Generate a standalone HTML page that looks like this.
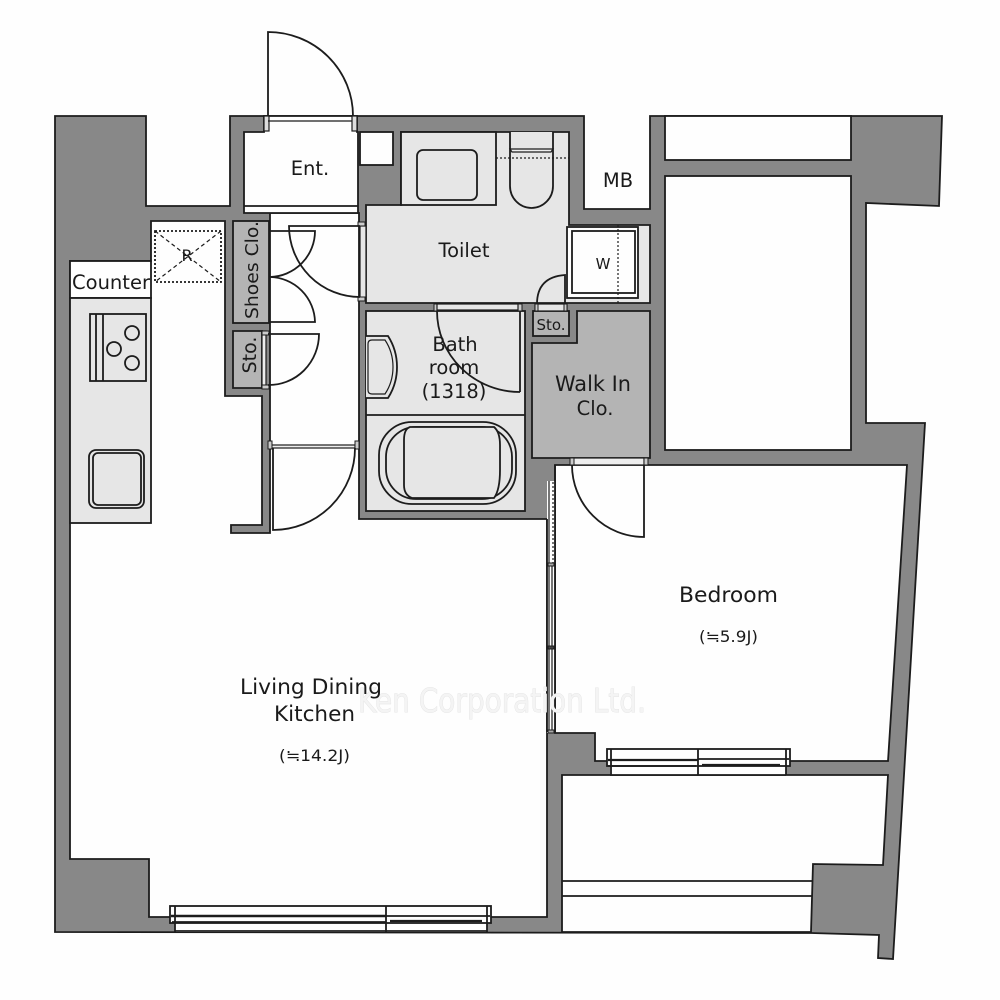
<!DOCTYPE html>
<html>
<head>
<meta charset="utf-8">
<style>
html,body{margin:0;padding:0;background:#fff;}
svg{display:block;}
text{font-family:"DejaVu Sans","Liberation Sans","Noto Sans CJK JP",sans-serif;fill:#1a1a1a;text-anchor:middle;}
</style>
</head>
<body>
<svg width="1000" height="1000" viewBox="0 0 1000 1000" xmlns="http://www.w3.org/2000/svg">
<rect width="1000" height="1000" fill="#fefefe"/>
<g stroke="#1c1c1c" stroke-width="1.8" fill="none" stroke-linejoin="miter">
<!-- outer walls -->
<polygon fill="#888" points="55,116 146,116 146,206 230,206 230,116 584,116 584,209 650,209 650,116 942,116 939,206 866,203 866,423 925,423 893,959 878,958 879,935 811,933 55,932"/>
<!-- closets right -->
<rect x="665" y="116" width="186" height="44" fill="#fefefe"/>
<rect x="665" y="176" width="186" height="274" fill="#fefefe"/>
<!-- bedroom -->
<polygon fill="#fefefe" points="555,465 907,465 888,761 595,761 595,733 555,733"/>
<!-- balcony -->
<polygon fill="#fefefe" points="562,775 888,775 883,865 813,864 811,932 562,932"/>
<line x1="562" y1="881" x2="813" y2="881"/>
<line x1="562" y1="896" x2="812" y2="896"/>
<!-- LDK + hall + R -->
<polygon fill="#fefefe" points="70,261 151,261 151,221 225,221 225,396 262,396 262,525 231,525 231,533 270,533 270,213 359,213 359,519 547,519 547,917 149,917 149,859 70,859"/>
<!-- entrance -->
<polygon fill="#fefefe" points="244,132 264,132 264,116 357,116 357,132 358,132 358,213 244,213"/>
<line x1="244" y1="206" x2="358" y2="206"/>
<rect x="264" y="116" width="5" height="15" fill="#ddd" stroke-width="1.2"/>
<rect x="352" y="116" width="5" height="15" fill="#ddd" stroke-width="1.2"/>
<line x1="268" y1="121" x2="352" y2="121" stroke-width="1.2"/>
<!-- entry door -->
<path d="M268,116 V32 A85,84 0 0 1 353,116"/>
<!-- white box -->
<rect x="360" y="132" width="33" height="33" fill="#fefefe"/>
<!-- toilet -->
<polygon fill="#e6e6e6" points="401,132 569,132 569,225 650,225 650,303 366,303 366,205 401,205"/>
<rect x="401" y="132" width="95" height="73" fill="#e6e6e6"/>
<rect x="417" y="150" width="60" height="50" rx="6" fill="#e6e6e6"/>
<path d="M510,132 V186 A21.5,22 0 0 0 553,186 V132" fill="#e6e6e6"/>
<path d="M510,149 H553 L551,152 H512 Z" fill="#eee" stroke-width="1.2"/>
<line x1="496" y1="158" x2="569" y2="158" stroke-dasharray="2 2" stroke-width="1.2"/>
<!-- toilet door strip -->
<rect x="360" y="226" width="6" height="72" fill="#e6e6e6" stroke-width="1.2"/>
<rect x="358" y="222" width="7" height="4" fill="#ccc" stroke-width="1"/>
<rect x="358" y="297" width="7" height="4" fill="#ccc" stroke-width="1"/>
<!-- washer -->
<rect x="567" y="227" width="71" height="71" fill="#fefefe"/>
<rect x="572" y="231" width="63" height="62" fill="#fefefe"/>
<line x1="618" y1="225" x2="618" y2="303" stroke-dasharray="2 2" stroke-width="1.2"/>
<!-- bathroom -->
<rect x="366" y="311" width="159" height="200" fill="#e6e6e6"/>
<line x1="366" y1="415" x2="525" y2="415"/>
<line x1="520" y1="308" x2="520" y2="392"/>
<path d="M437,311 A83,81 0 0 0 520,392"/>
<rect x="434" y="304" width="3" height="7" fill="#ccc" stroke-width="1"/>
<rect x="518" y="304" width="4" height="7" fill="#ccc" stroke-width="1"/>
<rect x="437" y="304" width="81" height="6" fill="#e6e6e6" stroke-width="1.2"/>
<path d="M366,336 H388 Q397,350 397,367 Q397,384 388,398 H366" fill="#e6e6e6"/>
<path d="M372,340 H385 Q393,352 393,367 Q393,382 385,394 H372 Q368,394 368,390 V344 Q368,340 372,340 Z" fill="#e6e6e6" stroke-width="1.2"/>
<rect x="379" y="422" width="137" height="82" rx="33" fill="#e6e6e6"/>
<rect x="386" y="427" width="126" height="72" rx="30" fill="#e6e6e6"/>
<path d="M410,427 Q404,429 404,440 V485 Q404,495 412,498 H494 Q500,490 500,470 V445 Q500,432 494,427 Z" fill="#e6e6e6"/>
<!-- small sto -->
<rect x="533" y="311" width="36" height="25" fill="#b4b4b4"/>
<rect x="535" y="304" width="32" height="7" fill="#e6e6e6" stroke-width="1.2"/>
<rect x="535" y="304" width="3" height="7" fill="#ccc" stroke-width="1"/>
<rect x="564" y="304" width="3" height="7" fill="#ccc" stroke-width="1"/>
<path d="M537,304 Q537,277 565,275 V304"/>
<!-- walk in closet -->
<polygon fill="#b4b4b4" points="532,343 577,343 577,311 650,311 650,458 532,458"/>
<rect x="572" y="458" width="72" height="7" fill="#eee" stroke-width="1.2"/>
<rect x="570" y="458" width="4" height="7" fill="#ccc" stroke-width="1"/>
<rect x="644" y="458" width="4" height="7" fill="#ccc" stroke-width="1"/>
<path d="M644,465 V537 A72,72 0 0 1 572,465"/>
<!-- shoes closet, sto -->
<rect x="233" y="221" width="36" height="102" fill="#b4b4b4"/>
<polygon fill="#b4b4b4" points="233,331 262,331 262,388 233,388"/>
<rect x="262" y="331" width="4" height="57" fill="#eee" stroke-width="1.2"/>
<rect x="262" y="331" width="7" height="4" fill="#ccc" stroke-width="1"/>
<rect x="262" y="385" width="7" height="4" fill="#ccc" stroke-width="1"/>
<!-- hall doors -->
<path d="M269,231 H315 A46,46 0 0 1 270,277 A46,46 0 0 1 315,322 H269"/>
<path d="M268,334 H319 A50,51 0 0 1 268,385"/>
<path d="M360,226 H289 A71,71 0 0 0 360,297"/>
<!-- door at bottom hall -->
<rect x="271" y="445" width="84" height="3" fill="#eee" stroke-width="1.2"/>
<rect x="268" y="441" width="4" height="8" fill="#ccc" stroke-width="1"/>
<rect x="355" y="441" width="4" height="8" fill="#ccc" stroke-width="1"/>
<path d="M273,448 V530 A82,82 0 0 0 355,448"/>
<!-- counter / kitchen -->
<rect x="70" y="261" width="81" height="37" fill="#fefefe"/>
<rect x="70" y="298" width="81" height="225" fill="#e6e6e6"/>
<rect x="90" y="314" width="56" height="67" fill="#e6e6e6"/>
<line x1="96" y1="314" x2="96" y2="381"/>
<line x1="103" y1="314" x2="103" y2="381"/>
<circle cx="132" cy="333" r="7"/>
<circle cx="114" cy="349" r="7"/>
<circle cx="132" cy="363" r="7"/>
<rect x="89" y="450" width="55" height="58" rx="7"/>
<rect x="93" y="453" width="48" height="52" rx="5"/>
<!-- PS box -->
<rect x="155" y="231" width="66" height="51" stroke-dasharray="2 2"/>
<line x1="155" y1="231" x2="221" y2="282" stroke-dasharray="4 3" stroke-width="1.2"/>
<line x1="221" y1="231" x2="155" y2="282" stroke-dasharray="4 3" stroke-width="1.2"/>
<!-- LDK window -->
<rect x="175" y="917" width="312" height="15" fill="#fefefe" stroke="none"/>
<rect x="170" y="906" width="321" height="17" fill="#fefefe"/>
<line x1="175" y1="906" x2="175" y2="932"/>
<line x1="487" y1="906" x2="487" y2="932"/>
<line x1="386" y1="906" x2="386" y2="932"/>
<line x1="171" y1="916" x2="386" y2="916" stroke-width="2.4"/>
<line x1="172" y1="922" x2="386" y2="922"/>
<line x1="386" y1="916" x2="490" y2="916"/>
<line x1="390" y1="921" x2="482" y2="921" stroke-width="2.2"/>
<line x1="175" y1="931" x2="487" y2="931"/>
<!-- bedroom window -->
<rect x="610" y="760" width="176" height="15" fill="#fefefe" stroke="none"/>
<rect x="607" y="749" width="183" height="17" fill="#fefefe"/>
<line x1="611" y1="749" x2="611" y2="775"/>
<line x1="786" y1="749" x2="786" y2="775"/>
<line x1="698" y1="749" x2="698" y2="775"/>
<line x1="608" y1="760" x2="698" y2="760" stroke-width="2.2"/>
<line x1="608" y1="766" x2="696" y2="766"/>
<line x1="698" y1="759" x2="789" y2="759"/>
<line x1="702" y1="765" x2="780" y2="765" stroke-width="2.2"/>
<line x1="610" y1="775" x2="786" y2="775"/>
<!-- bedroom closet sliding door -->
<rect x="547" y="481" width="8" height="252" fill="#fefefe" stroke="none"/>
<line x1="555" y1="465" x2="555" y2="733"/>
<line x1="547" y1="519" x2="547" y2="732"/>
<line x1="549" y1="481" x2="549" y2="732" stroke-width="1.2"/>
<line x1="553" y1="482" x2="553" y2="565" stroke-width="1.2" stroke-dasharray="2 2"/>
<line x1="552" y1="565" x2="552" y2="730" stroke-width="1.2"/>
<rect x="548" y="563" width="6" height="3" fill="#aaa" stroke-width="1"/>
<rect x="548" y="646" width="6" height="3" fill="#444" stroke-width="1"/>
<rect x="548" y="730" width="6" height="3" fill="#aaa" stroke-width="1"/>
</g>
<!-- watermark below the labels -->
<text x="502" y="712" font-size="33" textLength="288" lengthAdjust="spacingAndGlyphs" style="fill:#f4f4f4;font-family:'DejaVu Sans',sans-serif;paint-order:stroke;stroke:#e0e0e0;stroke-width:.8">Ken Corporation Ltd.</text>
<!-- labels -->
<g font-size="19.5">
<text x="310" y="175">Ent.</text>
<text x="464" y="257">Toilet</text>
<text x="618" y="187">MB</text>
<text x="455" y="351">Bath</text>
<text x="454" y="374">room</text>
<text x="454" y="398">(1318)</text>
<text x="593" y="391" font-size="21" textLength="76" lengthAdjust="spacingAndGlyphs">Walk In</text>
<text x="595" y="415">Clo.</text>
<text x="728.5" y="602" font-size="21.5" textLength="99" lengthAdjust="spacingAndGlyphs">Bedroom</text>
<text x="311" y="694" font-size="21.5" textLength="142" lengthAdjust="spacingAndGlyphs">Living Dining</text>
<text x="314.5" y="721" font-size="21.5" textLength="81" lengthAdjust="spacingAndGlyphs">Kitchen</text>
<text x="111" y="289" textLength="78" lengthAdjust="spacingAndGlyphs">Counter</text>
<text transform="translate(258,270) rotate(-90)" textLength="98" lengthAdjust="spacingAndGlyphs" font-size="18">Shoes Clo.</text>
<text transform="translate(256,355) rotate(-90)" font-size="19">Sto.</text>
</g>
<text x="551" y="330" font-size="15">Sto.</text>
<text x="603" y="269" font-size="15">W</text>
<text x="187" y="261" font-size="16">R</text>
<text x="728.5" y="642" font-size="16" textLength="59" lengthAdjust="spacingAndGlyphs">(≒5.9J)</text>
<text x="314.5" y="761" font-size="16" textLength="71" lengthAdjust="spacingAndGlyphs">(≒14.2J)</text>
</svg>
</body>
</html>
